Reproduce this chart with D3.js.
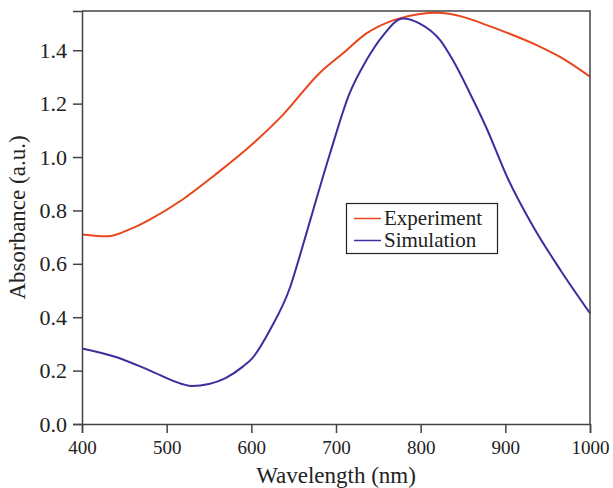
<!DOCTYPE html>
<html>
<head>
<meta charset="utf-8">
<script src="https://cdn.jsdelivr.net/npm/d3@7"></script>
<style>
  body { margin: 0; background: #fff; }
  text { font-family: "Liberation Serif", "DejaVu Serif", serif; fill: #222; }
</style>
</head>
<body>
<svg width="613" height="488"></svg>
<script>
var width = 613,
    height = 488;

// wavelength (nm) / absorbance
var expWavelength = [400, 430, 459, 479, 518, 557, 600, 637, 681, 708, 736, 768, 799, 819, 850, 878, 900, 937, 970, 1000];
var expAbsorbance = [0.710, 0.703, 0.733, 0.764, 0.839, 0.933, 1.045, 1.157, 1.316, 1.388, 1.463, 1.513, 1.536, 1.540, 1.525, 1.494, 1.468, 1.419, 1.365, 1.301];

var simWavelength = [400, 439, 479, 518, 530, 550, 569, 590, 601, 622, 646, 657, 673, 693, 716, 736, 756, 779, 799, 823, 838, 858, 878, 902, 933, 965, 1000];
var simAbsorbance = [0.283, 0.252, 0.202, 0.150, 0.142, 0.150, 0.171, 0.215, 0.246, 0.352, 0.514, 0.627, 0.801, 1.014, 1.238, 1.363, 1.457, 1.519, 1.500, 1.438, 1.363, 1.240, 1.107, 0.926, 0.739, 0.577, 0.415];

var xTicks = [400, 500, 600, 700, 800, 900, 1000];
var yTicks = [0, 0.2, 0.4, 0.6, 0.8, 1.0, 1.2, 1.4];

var seriesNames = ["Experiment", "Simulation"];
var seriesColors = ["#e8461c", "#3a2f9e"];

var margin = {left: 82, top: 11, right: 23, bottom: 64};

var svg = d3.select("svg");

var x = d3.scaleLinear()
    .domain([400, 1000])
    .range([margin.left, width - margin.right]);

var y = d3.scaleLinear()
    .domain([0, 1.547])
    .range([height - margin.bottom, margin.top]);

var line = d3.line()
    .x(function(d) { return x(d[0]); })
    .y(function(d) { return y(d[1]); })
    .curve(d3.curveMonotoneX);

var expData = d3.zip(expWavelength, expAbsorbance);
var simData = d3.zip(simWavelength, simAbsorbance);

[expData, simData].forEach(function(data, i) {
  svg.append("path")
     .datum(data)
     .attr("fill", "none")
     .attr("stroke", seriesColors[i])
     .attr("stroke-width", 2)
     .attr("d", line);
});

// box (top and right edges)
svg.append("path")
   .attr("fill", "none")
   .attr("stroke", "#444")
   .attr("stroke-width", 1.5)
   .attr("d", "M" + x(400) + "," + y(1.547) + "H" + x(1000) + "V" + y(0));

var xAxis = svg.append("g")
   .attr("transform", "translate(0," + y(0) + ")")
   .call(d3.axisBottom(x).tickValues(xTicks).tickSize(9).tickPadding(8).tickFormat(d3.format("d")));

var yAxis = svg.append("g")
   .attr("transform", "translate(" + x(400) + ",0)")
   .call(d3.axisLeft(y).tickValues(yTicks).tickSize(9).tickPadding(6).tickFormat(d3.format(".1f")));

[xAxis, yAxis].forEach(function(g, i) {
  g.select(".domain").attr("stroke", "#444").attr("stroke-width", 1.5);
  g.selectAll(".tick line").attr("stroke", "#444").attr("stroke-width", 1.5);
  g.selectAll(".tick text")
   .attr("fill", "#222")
   .style("font-family", "Liberation Serif, serif")
   .style("font-size", i === 0 ? "19px" : "22px");
});

svg.append("text")
   .attr("x", (x(400) + x(1000)) / 2)
   .attr("y", 483)
   .attr("text-anchor", "middle")
   .style("font-size", "23px")
   .text("Wavelength (nm)");

svg.append("text")
   .attr("transform", "translate(25," + ((y(0) + y(1.547)) / 2) + ") rotate(-90)")
   .attr("text-anchor", "middle")
   .style("font-size", "23px")
   .text("Absorbance (a.u.)");

// legend
var legend = svg.append("g");
legend.append("rect")
   .attr("x", 346.5)
   .attr("y", 203.5)
   .attr("width", 151)
   .attr("height", 50)
   .attr("fill", "#fff")
   .attr("stroke", "#222")
   .attr("stroke-width", 1.2);

seriesNames.forEach(function(name, i) {
  var ly = 218.5 + i * 22;
  legend.append("line")
     .attr("x1", 354).attr("x2", 381)
     .attr("y1", ly).attr("y2", ly)
     .attr("stroke", seriesColors[i])
     .attr("stroke-width", 1.5);
  legend.append("text")
     .attr("x", 384)
     .attr("y", ly + 6)
     .style("font-size", "21px")
     .text(name);
});
</script>
</body>
</html>
